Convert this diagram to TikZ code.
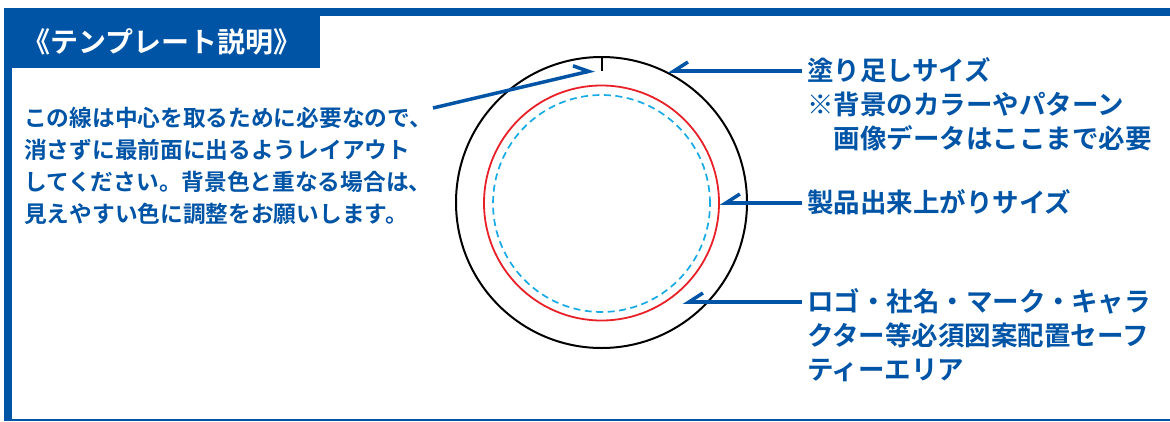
\documentclass[tikz,border=0pt]{standalone}
\usepackage{fontspec}
\newfontfamily\jpfont{Noto Sans CJK JP}[BoldFont={Noto Sans CJK JP Bold}]
\usetikzlibrary{arrows.meta, positioning}
\definecolor{tplblue}{RGB}{0,84,166}
\definecolor{trimred}{RGB}{232,32,40}
\definecolor{safecyan}{RGB}{24,170,228}

\begin{document}
\begin{tikzpicture}[
      x=1pt, y=-1pt,
      label/.style={text=tplblue, font=\jpfont\bfseries\fontsize{26.5}{33.5}\selectfont, inner sep=0pt, outer xsep=5pt, text height=23pt, text depth=3.5pt},
      note/.style={text=tplblue, font=\jpfont\bfseries\fontsize{22.7}{32}\selectfont, inner sep=0pt, align=left},
      ring/.style={circle, draw, inner sep=0pt, line width=2pt},
      pointer/.style={draw=tplblue, line width=3.5pt, -{Straight Barb[harpoon, swap, length=14pt, width=18pt]}}
    ]
      \useasboundingbox (0,0) rectangle (1170,421);

      \fill [tplblue] (4,8) rectangle (1170,16);
      \fill [tplblue] (4,8) rectangle (12,421);
      \draw [tplblue, line width=2pt] (12,419.5) -- (1170,419.5);
      \node (title) [fill=tplblue, text=white, anchor=north west, minimum width=316pt, minimum height=52pt, inner sep=0pt, font=\jpfont\bfseries\fontsize{28}{28}\selectfont] at (4,16) {《テンプレート説明》};

      \node (bleedring) [ring, minimum size=291pt] at (601.5,202.5) {};
      \node (trimring) [ring, draw=trimred, line width=1.8pt, minimum size=235pt] at (601.5,203) {};
      \node (safering) [ring, draw=safecyan, line width=1.7pt, dash pattern=on 7pt off 4.5pt, minimum size=217pt] at (601.5,203.5) {};
      \draw [line width=2pt] (bleedring.north) -- ++(0,15);

      \node (note) [note, anchor=north west] at (24,107) {この線は中心を取るために必要なので、\\消さずに最前面に出るようレイアウト\\してください。背景色と重なる場合は、\\見えやすい色に調整をお願いします。};

      \node (bleed) [label, anchor=west] at (802,71) {塗り足しサイズ};
      \node (bleedcolor) [label, below=7pt of bleed.south west, anchor=north west] {※背景のカラーやパターン};
      \node (bleedimage) [label, below=7pt of bleedcolor.south west, anchor=north west, xshift=26.5pt] {画像データはここまで必要};
      \node (trim) [label, anchor=west] at (802,203) {製品出来上がりサイズ};
      \node (safe) [label, anchor=west] at (802,302) {ロゴ・社名・マーク・キャラ};
      \node (safemid) [label, below=7pt of safe.south west, anchor=north west] {クター等必須図案配置セーフ};
      \node (safeend) [label, below=7pt of safemid.south west, anchor=north west] {ティーエリア};

      \coordinate (notefrom) at (433,108);
      \coordinate (centremark) at ([xshift=-7pt, yshift=-14pt]bleedring.north);
      \coordinate (bleedtip) at (bleedring.63.5);
      \coordinate (safetip) at (683,302);

      \draw [pointer, -{Straight Barb[harpoon, length=14pt, width=18pt]}] (notefrom) -- (centremark);
      \draw [pointer] (bleed.west) -- (bleed.west -| bleedtip);
      \draw [pointer] (trim.west) -- (trimring.east);
      \draw [pointer] (safe.west) -- (safetip);
    \end{tikzpicture}
\end{document}
